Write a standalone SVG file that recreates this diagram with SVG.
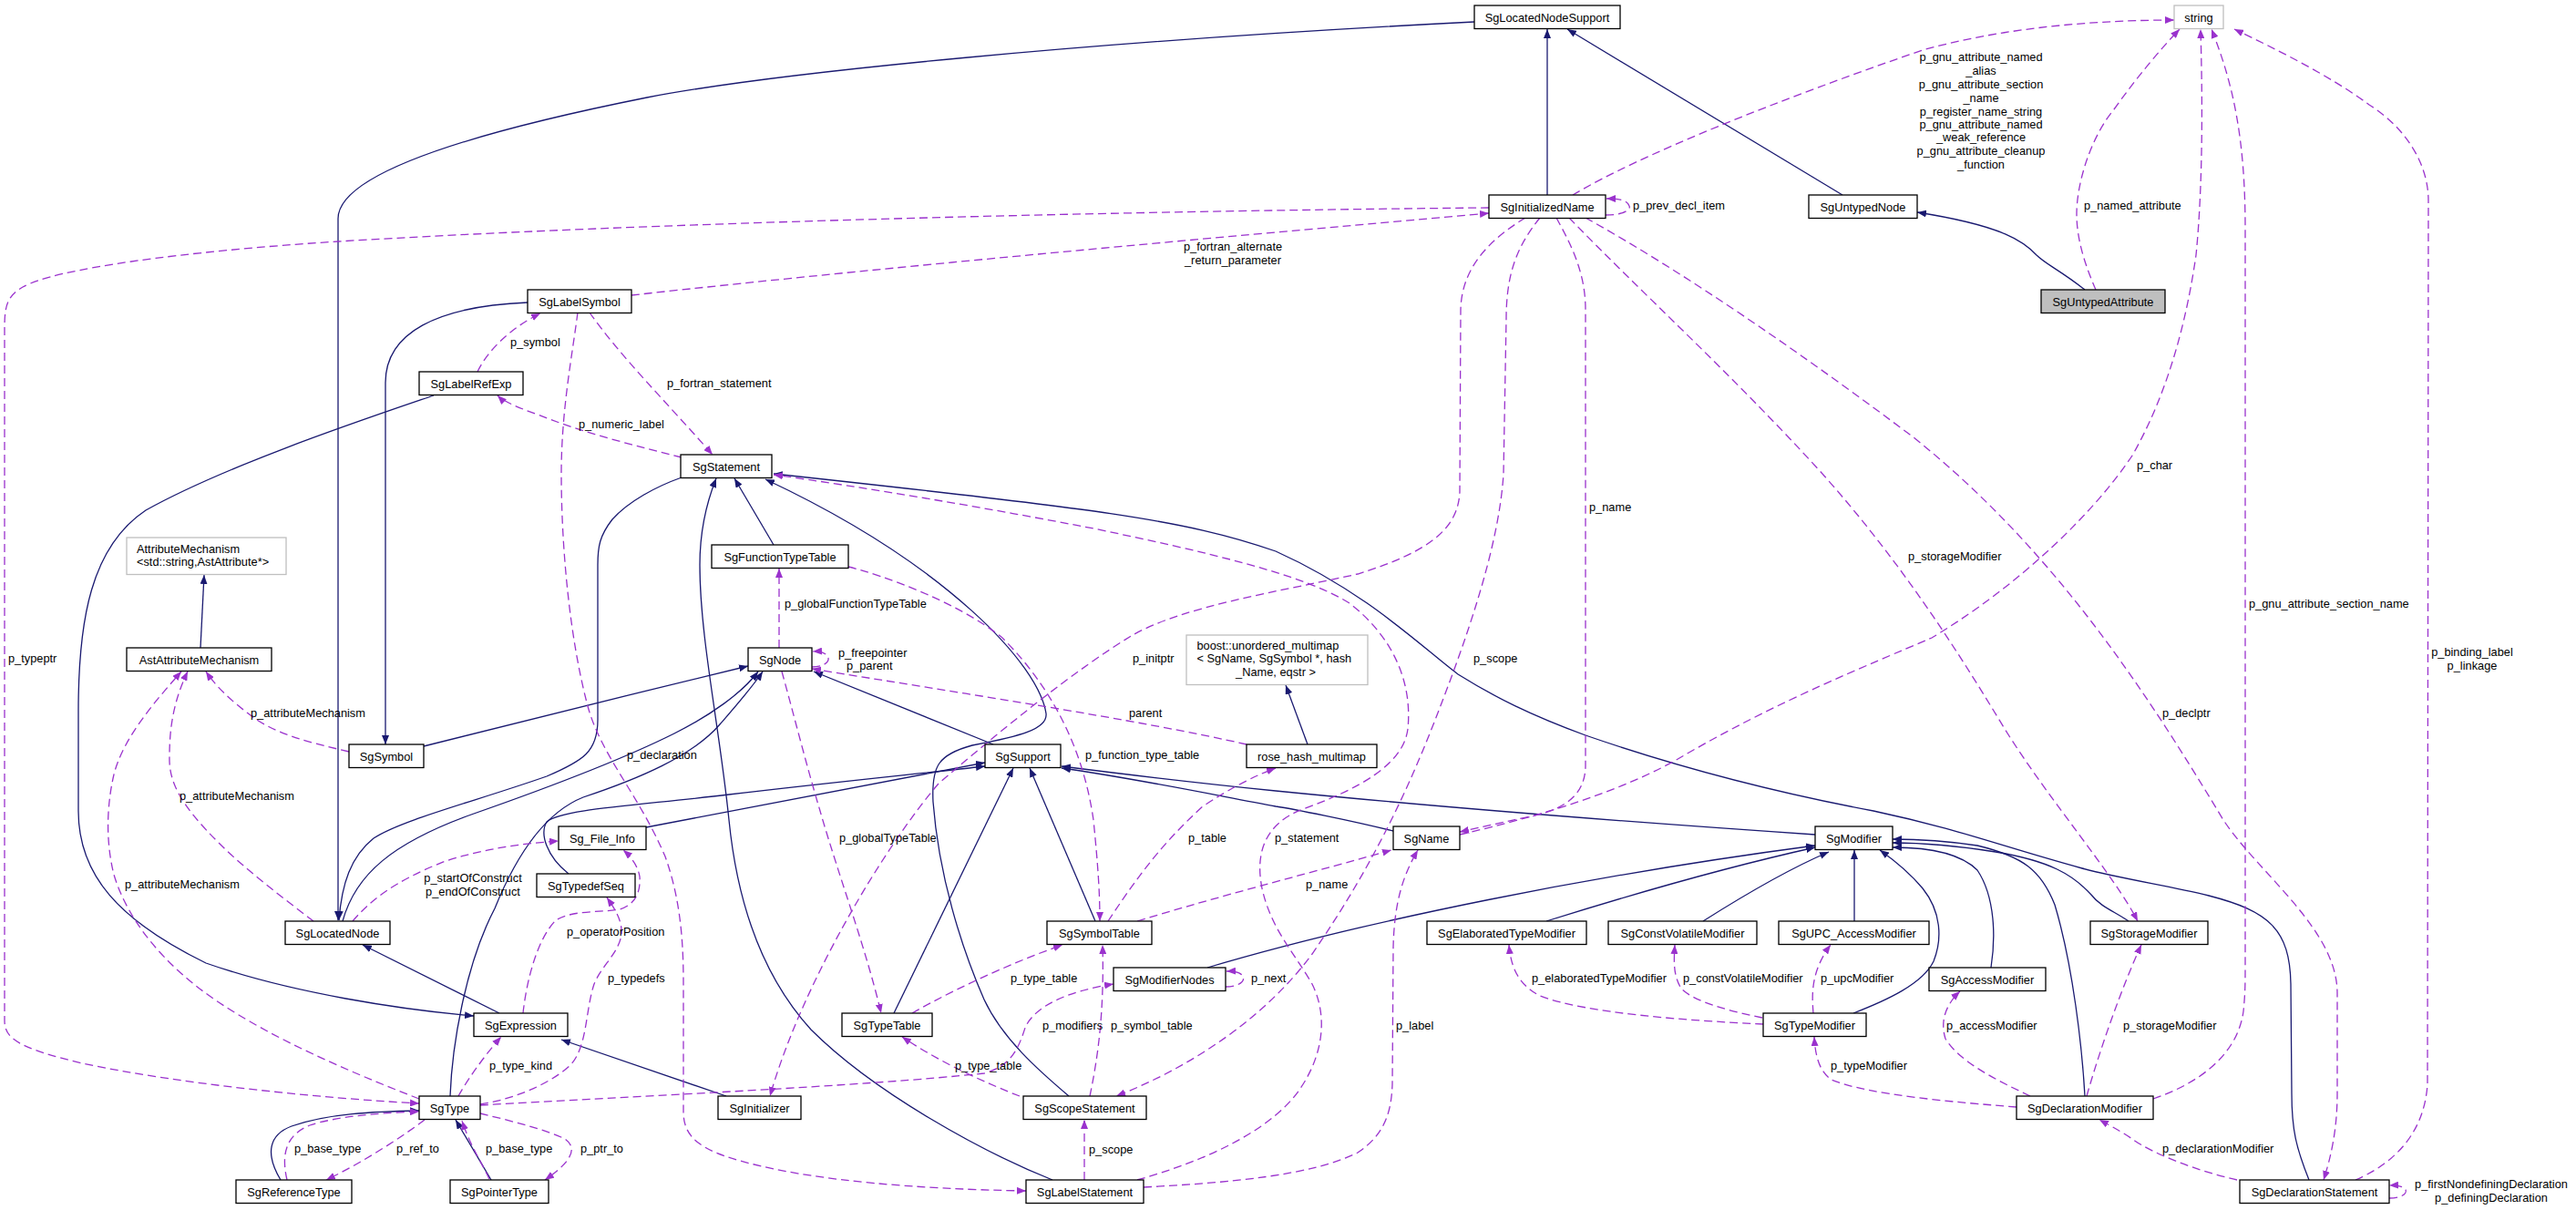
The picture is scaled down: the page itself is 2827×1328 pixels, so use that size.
<svg xmlns="http://www.w3.org/2000/svg" width="2827" height="1328" viewBox="0 0 2827 1328">
<defs>
<style>
.n rect{fill:#fff;stroke:#000;stroke-width:1.3}
.g rect{fill:#fff;stroke:#bfbfbf;stroke-width:1.3}
.h rect{fill:#bfbfbf;stroke:#000;stroke-width:1.3}
text{font-family:"Liberation Sans",Arial,sans-serif;font-size:12.8px;fill:#000}
.n text,.g text,.h text{text-anchor:middle}
.m{text-anchor:middle}
.i{fill:none;stroke:#191970;stroke-width:1.3;marker-end:url(#ai)}
.r{fill:none;stroke:#9a32cd;stroke-width:1.3;stroke-dasharray:9,5;marker-end:url(#ar)}
.rn{fill:none;stroke:#9a32cd;stroke-width:1.3;stroke-dasharray:9,5}
</style>
<marker id="ai" viewBox="0 0 10 8" refX="10" refY="4" markerWidth="10" markerHeight="8" orient="auto" markerUnits="userSpaceOnUse"><path d="M0,0 L10,4 L0,8 z" fill="#191970"/></marker>
<marker id="ar" viewBox="0 0 10 8" refX="10" refY="4" markerWidth="10" markerHeight="8" orient="auto" markerUnits="userSpaceOnUse"><path d="M0,0 L10,4 L0,8 z" fill="#9a32cd"/></marker>
</defs>
<rect width="2827" height="1328" fill="#fff"/>
<g id="edges">
<!-- inheritance -->
<path class="i" d="M1698,214 L1698,32"/>
<path class="i" d="M2022,214 L1720,32"/>
<path class="i" d="M2288,318 C2260,296 2245,290 2235,280 C2222,266 2200,248 2104,233"/>
<path class="i" d="M1618,24 C1200,45 850,80 710,107 C520,145 371,190 371,240 L371,1010"/>
<path class="i" d="M579,332 C480,336 423,365 423,420 L423,817"/>
<path class="i" d="M476,434 C400,460 250,510 160,560 C100,600 86,680 86,780 L86,890 C86,960 130,1010 226,1057 C320,1090 440,1108 520,1115"/>
<path class="i" d="M748,524 C720,534 690,550 672,570 C658,588 656,600 656,620 L656,790 C656,825 640,835 600,852 C520,880 440,900 410,920 C385,940 375,970 372,1010"/>
<path class="i" d="M376,1011 C390,960 430,925 520,893 C600,865 680,835 740,805 C780,785 815,760 832,737"/>
<path class="i" d="M494,1203 C496,1150 510,1060 543,997 C560,955 590,895 640,875 C700,855 760,830 790,795 C810,772 825,755 837,737"/>
<path class="i" d="M465,819 C560,795 700,760 821,731"/>
<path class="i" d="M1090,817 L893,737"/>
<path class="i" d="M220,711 L224,631"/>
<path class="i" d="M849,598 L806,525"/>
<path class="i" d="M1155,1295 C1080,1265 960,1200 890,1130 C840,1075 810,1000 800,900 C790,800 768,700 768,620 C768,580 776,550 786,525"/>
<path class="i" d="M1173,1203 C1140,1175 1100,1140 1080,1097 C1055,1040 1030,960 1024,880 C1022,840 1030,828 1067,818 C1120,808 1150,800 1148,783 C1140,730 1040,620 840,526"/>
<path class="i" d="M2534,1295 C2520,1260 2515,1240 2515,1200 L2514,1080 C2513,1020 2490,1000 2424,983 C2380,972 2330,965 2285,953 C2200,930 2150,910 2056,890 C1950,870 1850,845 1740,807 C1680,785 1640,765 1600,740 C1560,710 1500,650 1400,605 C1300,570 1200,558 849,520"/>
<path class="i" d="M709,908 L1081,837"/>
<path class="i" d="M624,959 C600,940 592,915 600,902 C615,888 700,884 800,872 C900,860 1000,850 1081,841"/>
<path class="i" d="M1529,912 C1480,900 1420,888 1400,885 C1330,872 1250,855 1165,843"/>
<path class="i" d="M1992,916 C1800,903 1600,888 1400,868 C1300,858 1220,848 1165,841"/>
<path class="i" d="M981,1112 L1112,843"/>
<path class="i" d="M1202,1011 L1130,843"/>
<path class="i" d="M1435,817 L1411,752"/>
<path class="i" d="M548,1112 L398,1037"/>
<path class="i" d="M797,1203 L616,1141"/>
<path class="i" d="M308,1295 C290,1265 296,1245 320,1236 C360,1222 410,1220 460,1219"/>
<path class="i" d="M539,1295 L500,1229"/>
<path class="i" d="M1325,1062 C1500,1010 1750,960 1992,928"/>
<path class="i" d="M1697,1011 C1780,985 1880,955 1992,930"/>
<path class="i" d="M1869,1011 C1910,985 1960,955 2007,935"/>
<path class="i" d="M2035,1011 L2035,933"/>
<path class="i" d="M2034,1112 C2070,1098 2110,1080 2122,1055 C2132,1030 2130,1000 2110,975 C2095,957 2080,945 2063,933"/>
<path class="i" d="M2185,1062 C2190,1030 2190,985 2170,955 C2150,935 2110,930 2077,930"/>
<path class="i" d="M2288,1203 C2285,1150 2275,1060 2255,993 C2240,955 2220,940 2170,928 C2130,922 2100,921 2077,921"/>
<path class="i" d="M2336,1011 C2320,1000 2305,995 2295,982 C2275,960 2250,945 2190,935 C2140,927 2100,925 2077,925"/>
<!-- references -->
<path class="r" d="M1726,214 C1800,170 1950,110 2110,55 C2200,30 2300,22 2386,22"/>
<path class="r" d="M2300,318 C2290,295 2279,265 2279,235 C2279,200 2295,150 2320,120 C2345,85 2370,55 2392,32"/>
<path class="r" d="M1762,236 C1782,236 1790,230 1788,226 C1786,220 1778,218 1763,218"/>
<path class="r" d="M693,324 C1000,290 1400,255 1634,234"/>
<path class="r" d="M1634,228 C1200,232 700,245 371,265 C200,276 60,295 25,315 C8,325 5,335 5,360 L5,1120 C5,1140 20,1150 90,1167 C200,1190 350,1205 460,1211"/>
<path class="r" d="M1674,239 C1640,260 1604,290 1603,340 L1602,540 C1600,580 1570,605 1490,630 C1400,650 1300,665 1243,697 C1180,735 1100,800 1030,860 C970,930 880,1080 845,1203"/>
<path class="r" d="M1690,239 C1665,270 1653,300 1653,350 L1650,520 C1645,600 1610,700 1575,790 C1540,880 1500,960 1440,1047 C1390,1115 1310,1170 1225,1203"/>
<path class="r" d="M1708,239 C1725,270 1740,300 1740,340 L1740,840 C1740,870 1720,888 1680,896 C1650,902 1625,908 1602,913"/>
<path class="r" d="M1722,239 C1800,320 1900,410 2000,520 C2080,610 2140,700 2200,800 C2250,880 2320,960 2346,1011"/>
<path class="r" d="M1740,239 C1850,300 1980,390 2100,480 C2250,600 2350,750 2440,900 C2480,960 2565,1020 2565,1090 L2565,1200 C2565,1240 2558,1270 2550,1295"/>
<path class="r" d="M2363,1206 C2410,1190 2455,1160 2462,1110 C2464,1090 2464,1080 2464,1060 L2464,250 C2464,150 2450,90 2427,32"/>
<path class="r" d="M2585,1295 C2620,1280 2660,1250 2664,1190 L2665,220 C2665,180 2640,140 2600,115 C2560,85 2500,55 2452,32"/>
<path class="r" d="M1602,916 C1680,898 1780,870 1850,828 C1950,770 2050,730 2120,700 C2220,640 2300,560 2340,500 C2380,430 2400,350 2410,280 C2418,200 2417,100 2415,32"/>
<path class="r" d="M891,732 C915,732 915,714 892,715"/>
<path class="r" d="M1368,817 C1250,790 1050,760 891,734"/>
<path class="r" d="M855,711 L855,624"/>
<path class="r" d="M858,737 C870,780 885,840 900,890 C920,960 950,1040 967,1112"/>
<path class="r" d="M931,622 C970,632 1050,660 1100,700 C1160,760 1190,830 1200,900 C1205,950 1207,980 1207,1011"/>
<path class="r" d="M1216,1011 C1240,975 1270,930 1320,885 C1350,865 1380,850 1400,843"/>
<path class="r" d="M647,343 C680,390 730,440 782,499"/>
<path class="r" d="M524,408 C535,385 560,360 593,344"/>
<path class="r" d="M748,502 C700,490 640,475 590,455 C565,446 552,440 546,434"/>
<path class="r" d="M634,343 C628,390 616,450 616,520 C616,600 625,700 645,775 C660,830 700,870 730,940 C748,990 750,1040 750,1080 L750,1220 C750,1250 770,1265 836,1280 C900,1295 1000,1305 1126,1307"/>
<path class="r" d="M1248,1295 C1320,1275 1400,1240 1430,1190 C1455,1150 1455,1110 1440,1080 C1420,1045 1395,1020 1385,975 C1378,940 1385,905 1430,888 C1490,866 1540,840 1545,800 C1550,750 1530,700 1481,662 C1430,630 1320,605 1200,580 C1080,557 950,535 849,521"/>
<path class="r" d="M460,1206 C380,1175 300,1140 240,1100 C180,1060 140,1010 125,960 C115,920 118,880 125,850 C135,810 170,770 199,737"/>
<path class="r" d="M344,1011 C310,985 270,955 240,925 C200,885 185,860 186,830 C186,800 190,770 206,737"/>
<path class="r" d="M383,825 C340,815 300,805 275,785 C255,770 238,755 226,737"/>
<path class="r" d="M387,1011 C405,990 430,968 489,945 C530,932 570,926 613,923"/>
<path class="r" d="M574,1112 C578,1075 590,1030 610,1010 C630,998 660,1002 680,998 C700,992 703,975 702,962 C700,950 692,940 684,933"/>
<path class="r" d="M527,1212 C560,1207 600,1192 625,1170 C645,1150 642,1110 652,1080 C660,1060 680,1045 682,1025 C683,1010 675,998 666,985"/>
<path class="r" d="M503,1203 C510,1190 530,1160 550,1138"/>
<path class="r" d="M315,1295 C308,1265 315,1245 340,1235 C370,1225 420,1221 460,1220"/>
<path class="r" d="M466,1229 C445,1245 400,1275 358,1295"/>
<path class="r" d="M537,1294 C528,1275 515,1255 507,1230"/>
<path class="r" d="M527,1222 C560,1230 600,1240 620,1250 C632,1258 632,1272 598,1295"/>
<path class="r" d="M527,1213 C700,1203 950,1192 1080,1178 C1110,1170 1118,1150 1125,1128 C1135,1105 1170,1088 1222,1080"/>
<path class="r" d="M1119,1203 C1080,1188 1030,1165 990,1138"/>
<path class="r" d="M1001,1112 C1030,1095 1100,1060 1166,1037"/>
<path class="r" d="M1196,1203 C1205,1160 1212,1110 1210,1037"/>
<path class="r" d="M1345,1083 C1370,1083 1372,1065 1346,1066"/>
<path class="r" d="M1190,1295 L1190,1229"/>
<path class="r" d="M1255,1303 C1350,1298 1440,1290 1490,1265 C1520,1245 1527,1220 1528,1190 L1529,1040 C1530,990 1540,960 1556,933"/>
<path class="r" d="M1248,1011 C1350,980 1450,955 1527,933"/>
<path class="r" d="M1935,1124 C1850,1120 1740,1112 1690,1093 C1665,1080 1658,1060 1656,1037"/>
<path class="r" d="M1934,1117 C1900,1110 1860,1100 1845,1085 C1836,1070 1837,1055 1838,1037"/>
<path class="r" d="M1990,1112 C1988,1090 1988,1065 2009,1037"/>
<path class="r" d="M2213,1215 C2150,1210 2050,1202 2010,1185 C1995,1175 1992,1155 1991,1138"/>
<path class="r" d="M2228,1203 C2190,1185 2150,1165 2135,1140 C2128,1118 2138,1100 2151,1088"/>
<path class="r" d="M2290,1203 C2305,1150 2330,1080 2350,1037"/>
<path class="r" d="M2455,1295 C2410,1285 2360,1265 2340,1250 C2325,1240 2315,1235 2304,1229"/>
<path class="r" d="M2622,1315 C2645,1315 2648,1300 2622,1301"/>
<!-- labels -->
<text class="m" x="2174" y="67">p_gnu_attribute_named</text>
<text class="m" x="2174" y="82">_alias</text>
<text class="m" x="2174" y="97">p_gnu_attribute_section</text>
<text class="m" x="2174" y="111.5">_name</text>
<text class="m" x="2174" y="126.5">p_register_name_string</text>
<text class="m" x="2174" y="141">p_gnu_attribute_named</text>
<text class="m" x="2174" y="155">_weak_reference</text>
<text class="m" x="2174" y="170">p_gnu_attribute_cleanup</text>
<text class="m" x="2174" y="185">_function</text>
<text x="2287" y="230">p_named_attribute</text>
<text x="1792" y="230">p_prev_decl_item</text>
<text class="m" x="1353" y="275">p_fortran_alternate</text>
<text class="m" x="1353" y="289.5">_return_parameter</text>
<text x="9" y="727">p_typeptr</text>
<text x="1243" y="727">p_initptr</text>
<text x="1617" y="727">p_scope</text>
<text x="1744" y="561">p_name</text>
<text x="2094" y="614.5">p_storageModifier</text>
<text x="2373" y="787">p_declptr</text>
<text x="2468" y="667">p_gnu_attribute_section_name</text>
<text class="m" x="2713" y="720">p_binding_label</text>
<text class="m" x="2713" y="735">p_linkage</text>
<text x="2345" y="515">p_char</text>
<text x="920" y="720.5">p_freepointer</text>
<text x="929" y="735">p_parent</text>
<text x="1239" y="787">parent</text>
<text x="861" y="667">p_globalFunctionTypeTable</text>
<text x="921" y="923.5">p_globalTypeTable</text>
<text x="1191" y="833">p_function_type_table</text>
<text x="1304" y="923.5">p_table</text>
<text x="732" y="425">p_fortran_statement</text>
<text x="560" y="379.5">p_symbol</text>
<text x="635" y="470">p_numeric_label</text>
<text x="688" y="832.5">p_declaration</text>
<text x="1399" y="923.5">p_statement</text>
<text x="137" y="975">p_attributeMechanism</text>
<text x="197" y="878">p_attributeMechanism</text>
<text x="275" y="787">p_attributeMechanism</text>
<text class="m" x="519" y="968">p_startOfConstruct</text>
<text class="m" x="519" y="983">p_endOfConstruct</text>
<text x="622" y="1027">p_operatorPosition</text>
<text x="667" y="1078">p_typedefs</text>
<text x="537" y="1174">p_type_kind</text>
<text x="323" y="1265">p_base_type</text>
<text x="435" y="1265">p_ref_to</text>
<text x="533" y="1265">p_base_type</text>
<text x="637" y="1265">p_ptr_to</text>
<text x="1144" y="1129.5">p_modifiers</text>
<text x="1048" y="1174">p_type_table</text>
<text x="1109" y="1078">p_type_table</text>
<text x="1219" y="1129.5">p_symbol_table</text>
<text x="1373" y="1078">p_next</text>
<text x="1195" y="1265.5">p_scope</text>
<text x="1532" y="1129.5">p_label</text>
<text x="1433" y="975">p_name</text>
<text x="1681" y="1078">p_elaboratedTypeModifier</text>
<text x="1847" y="1078">p_constVolatileModifier</text>
<text x="1998" y="1078">p_upcModifier</text>
<text x="2009" y="1174">p_typeModifier</text>
<text x="2136" y="1129.5">p_accessModifier</text>
<text x="2330" y="1129.5">p_storageModifier</text>
<text x="2373" y="1265">p_declarationModifier</text>
<text class="m" x="2734" y="1304">p_firstNondefiningDeclaration</text>
<text class="m" x="2734" y="1319">p_definingDeclaration</text>
</g>
<g id="n-SgLocatedNodeSupport" class="n"><rect x="1618" y="6" width="160" height="25.5"/><text x="1698" y="23.5">SgLocatedNodeSupport</text></g>
<g id="n-string" class="g"><rect x="2386" y="6" width="54" height="25.5"/><text x="2413" y="23.5">string</text></g>
<g id="n-SgInitializedName" class="n"><rect x="1634" y="214" width="128" height="25.5"/><text x="1698" y="231.5">SgInitializedName</text></g>
<g id="n-SgUntypedNode" class="n"><rect x="1985" y="214" width="119" height="25.5"/><text x="2044.5" y="231.5">SgUntypedNode</text></g>
<g id="n-SgUntypedAttribute" class="h"><rect x="2240" y="318" width="136" height="25.5"/><text x="2308" y="335.5">SgUntypedAttribute</text></g>
<g id="n-SgLabelSymbol" class="n"><rect x="579" y="318" width="114" height="25.5"/><text x="636" y="335.5">SgLabelSymbol</text></g>
<g id="n-SgLabelRefExp" class="n"><rect x="460" y="408" width="114" height="25.5"/><text x="517" y="425.5">SgLabelRefExp</text></g>
<g id="n-SgStatement" class="n"><rect x="747" y="499" width="100" height="25.5"/><text x="797" y="516.5">SgStatement</text></g>
<g id="n-SgFunctionTypeTable" class="n"><rect x="781" y="598" width="150" height="25.5"/><text x="856" y="615.5">SgFunctionTypeTable</text></g>
<g id="n-AttributeMechanism" class="g"><rect x="139" y="590" width="175" height="40.5"/><text x="150" y="607" style="text-anchor:start">AttributeMechanism</text><text x="150" y="621" style="text-anchor:start">&lt;std::string,AstAttribute*&gt;</text></g>
<g id="n-AstAttributeMechanism" class="n"><rect x="139" y="711" width="159" height="25.5"/><text x="218.5" y="728.5">AstAttributeMechanism</text></g>
<g id="n-SgNode" class="n"><rect x="821" y="711" width="70" height="25.5"/><text x="856" y="728.5">SgNode</text></g>
<g id="n-SgSymbol" class="n"><rect x="383" y="817" width="82" height="25.5"/><text x="424" y="834.5">SgSymbol</text></g>
<g id="n-SgSupport" class="n"><rect x="1081" y="817" width="83" height="25.5"/><text x="1122.5" y="834.5">SgSupport</text></g>
<g id="n-boost_unordered_multimap" class="g"><rect x="1302" y="697" width="199" height="54.5"/><text x="1313.5" y="713" style="text-anchor:start">boost::unordered_multimap</text><text x="1313.5" y="727" style="text-anchor:start">&lt; SgName, SgSymbol *, hash</text><text x="1400" y="741.5">_Name, eqstr &gt;</text></g>
<g id="n-rose_hash_multimap" class="n"><rect x="1368" y="817" width="143" height="25.5"/><text x="1439.5" y="834.5">rose_hash_multimap</text></g>
<g id="n-Sg_File_Info" class="n"><rect x="613" y="907" width="96" height="25.5"/><text x="661" y="924.5">Sg_File_Info</text></g>
<g id="n-SgTypedefSeq" class="n"><rect x="589" y="959" width="108" height="25.5"/><text x="643" y="976.5">SgTypedefSeq</text></g>
<g id="n-SgLocatedNode" class="n"><rect x="313" y="1011" width="115" height="25.5"/><text x="370.5" y="1028.5">SgLocatedNode</text></g>
<g id="n-SgExpression" class="n"><rect x="520" y="1112" width="103" height="25.5"/><text x="571.5" y="1129.5">SgExpression</text></g>
<g id="n-SgType" class="n"><rect x="460" y="1203" width="67" height="25.5"/><text x="493.5" y="1220.5">SgType</text></g>
<g id="n-SgReferenceType" class="n"><rect x="259" y="1295" width="127" height="25.5"/><text x="322.5" y="1312.5">SgReferenceType</text></g>
<g id="n-SgPointerType" class="n"><rect x="494" y="1295" width="108" height="25.5"/><text x="548" y="1312.5">SgPointerType</text></g>
<g id="n-SgInitializer" class="n"><rect x="788" y="1203" width="91" height="25.5"/><text x="833.5" y="1220.5">SgInitializer</text></g>
<g id="n-SgTypeTable" class="n"><rect x="924" y="1112" width="99" height="25.5"/><text x="973.5" y="1129.5">SgTypeTable</text></g>
<g id="n-SgSymbolTable" class="n"><rect x="1149" y="1011" width="115" height="25.5"/><text x="1206.5" y="1028.5">SgSymbolTable</text></g>
<g id="n-SgModifierNodes" class="n"><rect x="1222" y="1062" width="123" height="25.5"/><text x="1283.5" y="1079.5">SgModifierNodes</text></g>
<g id="n-SgScopeStatement" class="n"><rect x="1123" y="1203" width="135" height="25.5"/><text x="1190.5" y="1220.5">SgScopeStatement</text></g>
<g id="n-SgLabelStatement" class="n"><rect x="1126" y="1295" width="129" height="25.5"/><text x="1190.5" y="1312.5">SgLabelStatement</text></g>
<g id="n-SgName" class="n"><rect x="1529" y="907" width="73" height="25.5"/><text x="1565.5" y="924.5">SgName</text></g>
<g id="n-SgModifier" class="n"><rect x="1992" y="907" width="85" height="25.5"/><text x="2034.5" y="924.5">SgModifier</text></g>
<g id="n-SgElaboratedTypeModifier" class="n"><rect x="1566" y="1011" width="175" height="25.5"/><text x="1653.5" y="1028.5">SgElaboratedTypeModifier</text></g>
<g id="n-SgConstVolatileModifier" class="n"><rect x="1765" y="1011" width="163" height="25.5"/><text x="1846.5" y="1028.5">SgConstVolatileModifier</text></g>
<g id="n-SgUPC_AccessModifier" class="n"><rect x="1952" y="1011" width="165" height="25.5"/><text x="2034.5" y="1028.5">SgUPC_AccessModifier</text></g>
<g id="n-SgTypeModifier" class="n"><rect x="1935" y="1112" width="113" height="25.5"/><text x="1991.5" y="1129.5">SgTypeModifier</text></g>
<g id="n-SgAccessModifier" class="n"><rect x="2117" y="1062" width="128" height="25.5"/><text x="2181" y="1079.5">SgAccessModifier</text></g>
<g id="n-SgStorageModifier" class="n"><rect x="2294" y="1011" width="129" height="25.5"/><text x="2358.5" y="1028.5">SgStorageModifier</text></g>
<g id="n-SgDeclarationModifier" class="n"><rect x="2213" y="1203" width="150" height="25.5"/><text x="2288" y="1220.5">SgDeclarationModifier</text></g>
<g id="n-SgDeclarationStatement" class="n"><rect x="2458" y="1295" width="164" height="25.5"/><text x="2540" y="1312.5">SgDeclarationStatement</text></g>
</svg>
